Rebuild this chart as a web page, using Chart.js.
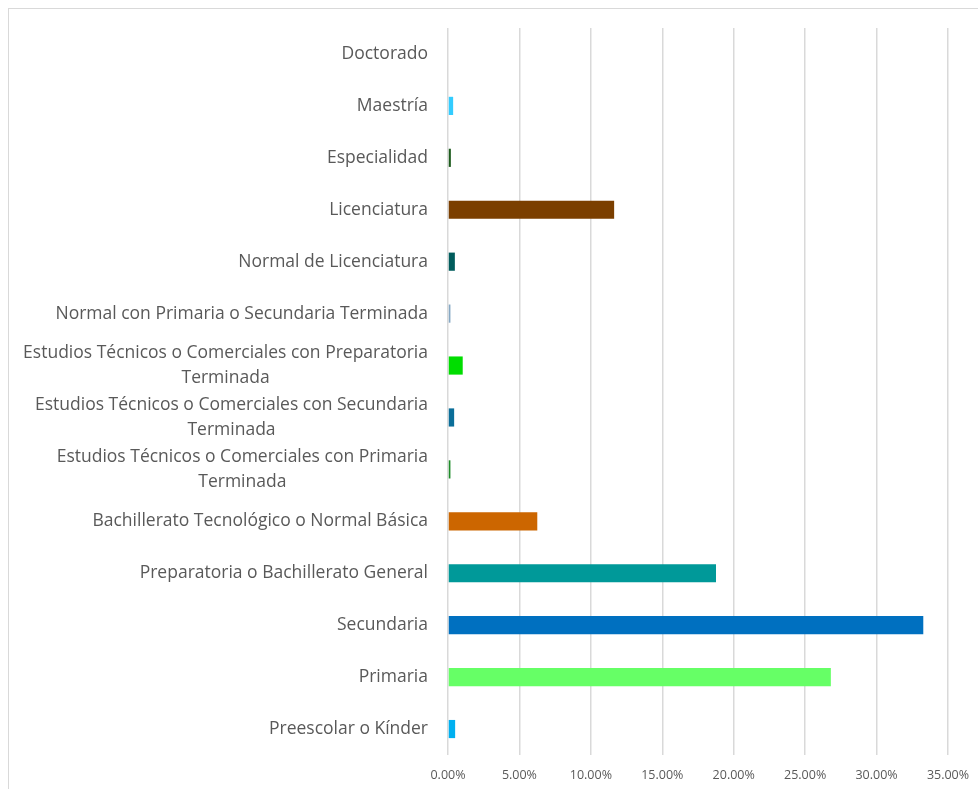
<!DOCTYPE html>
<html>
<head>
<meta charset="utf-8">
<title>Nivel de escolaridad</title>
<script src="https://cdn.jsdelivr.net/npm/chart.js@4.4.1/dist/chart.umd.min.js"></script>
<style>
    html, body {
        margin: 0;
        padding: 0;
        background: #ffffff;
        overflow: hidden;
    }
    #frame {
        position: absolute;
        left: 8px;
        top: 8px;
        width: 1200px;
        height: 1200px;
        border: 1px solid #d9d9d9;
    }
    #chart {
        position: absolute;
        left: 0;
        top: 0;
    }
</style>
</head>
<body>
<div id="frame"></div>
<canvas id="chart" width="978" height="789"></canvas>
<script>
/*
============================================================
Data
============================================================
*/

const categories = [
    "Doctorado",
    "Maestría",
    "Especialidad",
    "Licenciatura",
    "Normal de Licenciatura",
    "Normal con Primaria o Secundaria Terminada",
    ["Estudios Técnicos o Comerciales con Preparatoria", "Terminada"],
    ["Estudios Técnicos o Comerciales con Secundaria", "Terminada"],
    ["Estudios Técnicos o Comerciales con Primaria", "Terminada"],
    "Bachillerato Tecnológico o Normal Básica",
    "Preparatoria o Bachillerato General",
    "Secundaria",
    "Primaria",
    "Preescolar o Kínder"
];

// percent of population
const shares = [
    0.00,
    0.36,
    0.20,
    11.63,
    0.48,
    0.17,
    1.03,
    0.43,
    0.17,
    6.25,
    18.76,
    33.27,
    26.80,
    0.50
];

const barColors = [
    "#33ccff",
    "#33ccff",
    "#1e5c1e",
    "#7b3f00",
    "#005c5c",
    "#86a8c4",
    "#00dd00",
    "#0b6e99",
    "#1f8c2a",
    "#cc6600",
    "#009999",
    "#0070c0",
    "#66ff66",
    "#00b0f0"
];

const axisMax = 35;
const axisStep = 5;

/*
============================================================
Category labels (wrapped lines centred on each other)
============================================================
*/

const labelFont = "17.5px 'Open Sans'";
const labelColor = "#595959";
const labelLineHeight = 25;

const categoryLabels = {

    id: "categoryLabels",

    afterDraw(chart) {

        const ctx = chart.ctx;
        const yScale = chart.scales.y;
        const right = chart.chartArea.left - 20;

        ctx.save();
        ctx.font = labelFont;
        ctx.fillStyle = labelColor;
        ctx.textBaseline = "middle";
        ctx.textAlign = "center";

        categories.forEach((label, i) => {

            const lines = Array.isArray(label) ? label : [label];
            const cy = yScale.getPixelForTick(i);
            const widest = Math.max(...lines.map(l => ctx.measureText(l).width));

            lines.forEach((line, k) => {
                const offset = (k - (lines.length - 1) / 2) * labelLineHeight;
                ctx.fillText(line, right - widest / 2, cy + offset);
            });

        });

        ctx.restore();

    }

};

/*
============================================================
Chart
============================================================
*/

new Chart(document.getElementById("chart"), {

    type: "bar",

    data: {
        labels: categories,
        datasets: [
            {
                data: shares,
                backgroundColor: barColors,
                borderWidth: 0,
                barPercentage: 0.35,
                categoryPercentage: 1
            }
        ]
    },

    options: {

        indexAxis: "y",
        responsive: false,
        devicePixelRatio: 1,
        animation: false,

        layout: {
            padding: { left: 0, right: 30, top: 28, bottom: 0 }
        },

        plugins: {
            legend: { display: false },
            tooltip: { enabled: false }
        },

        scales: {

            x: {
                min: 0,
                max: axisMax,
                afterFit(scale) {
                    scale.height = 34;
                    scale.paddingLeft = 0;
                    scale.paddingRight = 0;
                },
                ticks: {
                    stepSize: axisStep,
                    padding: 13,
                    color: labelColor,
                    font: { family: "'Open Sans'", size: 12.5 },
                    callback: v => v.toFixed(2) + "%"
                },
                grid: {
                    color: "#d9d9d9",
                    lineWidth: 1.5,
                    drawTicks: false
                },
                border: { display: false }
            },

            y: {
                afterFit(scale) {
                    scale.width = 448;
                },
                ticks: { display: false },
                grid: { display: false },
                border: { display: false }
            }

        }

    },

    plugins: [categoryLabels]

});
</script>
</body>
</html>
